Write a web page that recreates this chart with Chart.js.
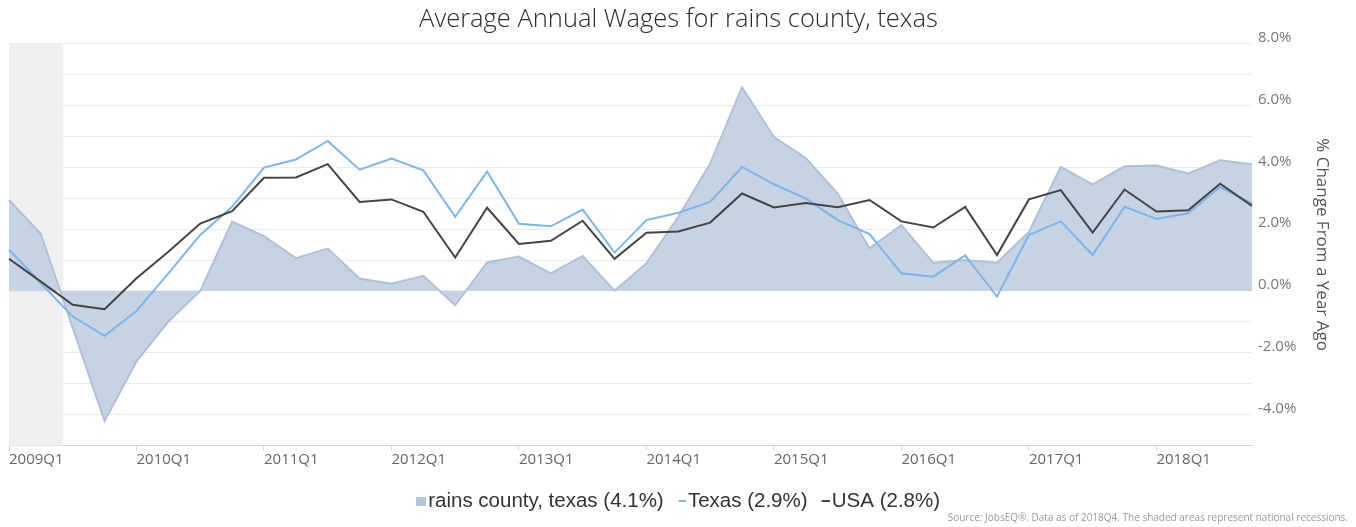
<!DOCTYPE html>
<html>
<head>
<meta charset="utf-8">
<script src="https://cdn.jsdelivr.net/npm/chart.js@4.4.1/dist/chart.umd.min.js"></script>
<style>
  html, body { margin: 0; padding: 0; background: #fff; }
  #wrap { width: 1356px; height: 527px; }
</style>
</head>
<body>
<div id="wrap"><canvas id="chart"></canvas></div>
<script>
// Data (percent change from a year ago)
const quarters = [
  '2009Q1','2009Q2','2009Q3','2009Q4','2010Q1','2010Q2','2010Q3','2010Q4',
  '2011Q1','2011Q2','2011Q3','2011Q4','2012Q1','2012Q2','2012Q3','2012Q4',
  '2013Q1','2013Q2','2013Q3','2013Q4','2014Q1','2014Q2','2014Q3','2014Q4',
  '2015Q1','2015Q2','2015Q3','2015Q4','2016Q1','2016Q2','2016Q3','2016Q4',
  '2017Q1','2017Q2','2017Q3','2017Q4','2018Q1','2018Q2','2018Q3','2018Q4'
];
const rainsCounty = [
  2.94, 1.84, -1.2, -4.21, -2.28, -0.99, 0.0, 2.24,
  1.77, 1.06, 1.37, 0.40, 0.23, 0.49, -0.46, 0.92,
  1.11, 0.57, 1.13, 0.01, 0.89, 2.4, 4.12, 6.59,
  4.98, 4.30, 3.15, 1.38, 2.13, 0.91, 1.0, 0.91,
  1.91, 4.01, 3.45, 4.03, 4.06, 3.80, 4.23, 4.10
];
const texas = [
  1.34, 0.25, -0.83, -1.45, -0.65, 0.57, 1.81, 2.72,
  3.99, 4.25, 4.85, 3.92, 4.28, 3.90, 2.40, 3.86,
  2.17, 2.09, 2.63, 1.24, 2.29, 2.53, 2.88, 4.01,
  3.45, 2.99, 2.29, 1.84, 0.57, 0.46, 1.15, -0.18,
  1.81, 2.25, 1.16, 2.72, 2.33, 2.51, 3.36, 2.83
];
const usa = [
  1.04, 0.30, -0.45, -0.59, 0.41, 1.27, 2.18, 2.58,
  3.66, 3.67, 4.10, 2.88, 2.96, 2.56, 1.08, 2.69,
  1.52, 1.62, 2.27, 1.04, 1.88, 1.92, 2.21, 3.15,
  2.70, 2.84, 2.71, 2.94, 2.25, 2.05, 2.72, 1.16,
  2.96, 3.26, 1.89, 3.28, 2.57, 2.61, 3.47, 2.75
];
const seriesNames = ['rains county, texas (4.1%)', 'Texas (2.9%)', 'USA (2.8%)'];
const recessionRange = [0, 1.7]; // in quarter index units

const areaFill = '#c6d3e3';
const areaLine = '#afc1d8';
const texasColor = '#7cb5ec';
const usaColor = '#434348';

// legend marker: drawn at the right end of a small transparent canvas,
// so it sits close to its label text
function marker(w, h, color) {
  const c = document.createElement('canvas');
  c.width = 17; c.height = h;
  const g = c.getContext('2d');
  g.fillStyle = color;
  g.fillRect(17 - w, 0, w, h);
  return c;
}

// shaded recession band
const recessionBand = {
  id: 'recessionBand',
  beforeDatasetsDraw(chart) {
    const {ctx, chartArea, scales: {x}} = chart;
    const x0 = x.getPixelForValue(recessionRange[0]);
    const x1 = x.getPixelForValue(recessionRange[1]);
    ctx.save();
    ctx.fillStyle = '#efefef';
    ctx.fillRect(x0, chartArea.top, x1 - x0, chartArea.bottom - chartArea.top);
    ctx.restore();
  }
};

new Chart(document.getElementById('chart'), {
  type: 'line',
  data: {
    labels: quarters,
    datasets: [
      {
        label: seriesNames[0],
        data: rainsCounty,
        fill: 'origin',
        backgroundColor: areaFill,
        borderColor: areaLine,
        borderWidth: 2,
        pointRadius: 0,
        tension: 0,
        order: 3
      },
      {
        label: seriesNames[1],
        data: texas,
        fill: false,
        borderColor: texasColor,
        borderWidth: 2,
        pointRadius: 0,
        tension: 0,
        order: 2
      },
      {
        label: seriesNames[2],
        data: usa,
        fill: false,
        borderColor: usaColor,
        borderWidth: 2,
        pointRadius: 0,
        tension: 0,
        order: 1
      }
    ]
  },
  options: {
    responsive: true,
    maintainAspectRatio: false,
    animation: false,
    layout: { padding: { left: 9, right: 8, top: 0, bottom: 0 } },
    plugins: {
      title: {
        display: true,
        text: 'Average Annual Wages for rains county, texas',
        color: '#2b2b2b',
        font: { family: 'Open Sans', size: 25.5, weight: '300' },
        padding: { top: 4, bottom: 9 }
      },
      subtitle: {
        display: true,
        position: 'bottom',
        align: 'end',
        text: 'Source: JobsEQ®. Data as of 2018Q4. The shaded areas represent national recessions.',
        color: '#999',
        font: { family: 'Open Sans', size: 10, weight: 'normal' },
        padding: { top: -9.25, bottom: 3 }
      },
      legend: {
        position: 'bottom',
        labels: {
          usePointStyle: true,
          boxHeight: 1,
          boxWidth: 1,
          padding: 13,
          color: '#333',
          font: { family: 'Liberation Sans', size: 20.5 },
          sort: (a, b) => a.datasetIndex - b.datasetIndex,
          generateLabels: () => [
            { text: seriesNames[0], datasetIndex: 0, pointStyle: marker(10, 9, '#b4c4d9'), fillStyle: '#b4c4d9', strokeStyle: '#b4c4d9', lineWidth: 0, fontColor: '#333' },
            { text: seriesNames[1], datasetIndex: 1, pointStyle: marker(7, 2, texasColor), fillStyle: texasColor, strokeStyle: texasColor, lineWidth: 0, fontColor: '#333' },
            { text: seriesNames[2], datasetIndex: 2, pointStyle: marker(8, 2, usaColor), fillStyle: usaColor, strokeStyle: usaColor, lineWidth: 0, fontColor: '#333' }
          ]
        }
      },
      tooltip: { enabled: false }
    },
    scales: {
      x: {
        offset: false,
        grid: {
          drawOnChartArea: false,
          drawTicks: true,
          tickLength: 5,
          color: ctx => (ctx.index % 4 === 0 ? '#ccd6eb' : 'rgba(0,0,0,0)')
        },
        border: { display: true, color: '#ccd6eb', width: 1 },
        ticks: {
          autoSkip: false,
          maxRotation: 0,
          align: 'start',
          padding: 0,
          color: '#666',
          font: { family: 'Open Sans', size: 15 },
          callback: function (value, index) {
            return index % 4 === 0 ? this.getLabelForValue(value) : '';
          }
        },
        afterFit: scale => { scale.height = 32.25; }
      },
      y: {
        position: 'right',
        min: -5,
        max: 8,
        grid: { color: '#ebebeb', drawTicks: false },
        border: { display: false },
        ticks: {
          stepSize: 1,
          padding: 6,
          labelOffset: -6,
          color: '#777',
          font: { family: 'Open Sans', size: 15 },
          callback: v => (v % 2 === 0 ? v.toFixed(1) + '%' : '')
        },
        title: {
          display: true,
          text: '% Change From a Year Ago',
          color: '#555',
          font: { family: 'Open Sans', size: 17 },
          padding: { top: 16, bottom: 0 }
        },
        afterFit: scale => { scale.width = 96; }
      }
    }
  },
  plugins: [recessionBand]
});
</script>
</body>
</html>
